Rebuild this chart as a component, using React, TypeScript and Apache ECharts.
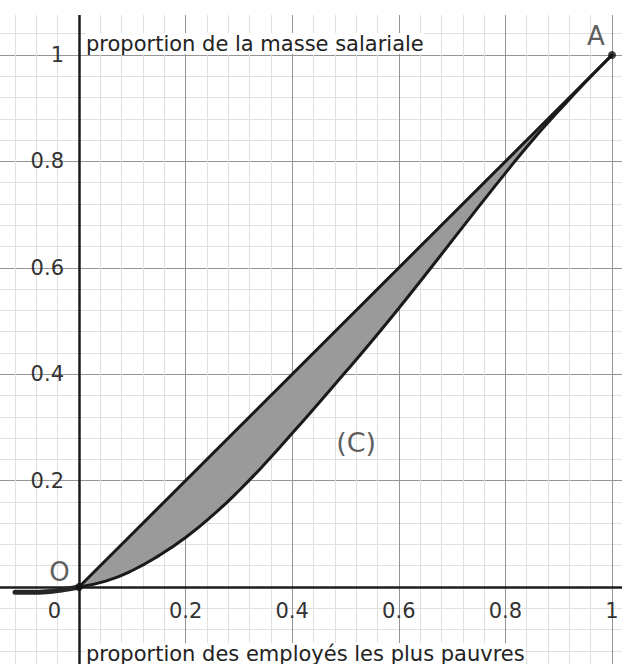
import React, { useEffect, useRef } from "react";
import * as echarts from "echarts";

// Lorenz-type curve (C)
const curveX = [-0.12, -0.09, -0.06, -0.03, 0, 0.05, 0.1, 0.15, 0.2, 0.25, 0.3, 0.35, 0.4, 0.45, 0.5, 0.55, 0.6, 0.65, 0.7, 0.75, 0.8, 0.85, 0.9, 0.95, 1];
const curveY = [-0.01, -0.01, -0.009, -0.005, 0, 0.011, 0.031, 0.059, 0.093, 0.134, 0.181, 0.233, 0.289, 0.346, 0.404, 0.463, 0.524, 0.587, 0.651, 0.715, 0.778, 0.839, 0.895, 0.949, 1];

// Diagonal (perfect equality)
const diagX = [0, 1];
const diagY = [0, 1];

// Tick labels
const xTicks = [0, 0.2, 0.4, 0.6, 0.8, 1];
const xTickLabels = ["0", "0.2", "0.4", "0.6", "0.8", "1"];
const yTicks = [0.2, 0.4, 0.6, 0.8, 1];
const yTickLabels = ["0.2", "0.4", "0.6", "0.8", "1"];

// Named points and annotation
const pointNames = ["A", "O"];
const pointX = [1, 0];
const pointY = [1, 0];
const curveName = "(C)";
const curveLabelPos = [0.52, 0.272];

const yAxisTitle = "proportion de la masse salariale";
const xAxisTitle = "proportion des employés les plus pauvres";

const FONT = "DejaVu Sans";

function findLabel(v: number, ticks: number[], labels: string[]) {
  for (let i = 0; i < ticks.length; i++) {
    if (Math.abs(v - ticks[i]) < 1e-6) return labels[i];
  }
  return "";
}

export default function App() {
  const ref = useRef<HTMLDivElement>(null);

  useEffect(() => {
    if (!ref.current) return;
    const chart = echarts.init(ref.current, undefined, { renderer: "svg" });

    const curveData = curveX.map((x, i) => [x, curveY[i]]);
    const diagData = diagX.map((x, i) => [x, diagY[i]]);
    const lowerPos = curveData.filter((p) => p[0] >= 0);
    const leftPart = curveData.filter((p) => p[0] <= 0);

    const option: any = {
      animation: false,
      backgroundColor: "#ffffff",
      grid: {
        left: -27.6,
        right: -96.6,
        top: -51.4,
        bottom: -29.4,
        containLabel: false,
        outerBoundsMode: "none",
      },
      xAxis: {
        type: "value",
        position: "bottom",
        offset: -106.4,
        min: -0.2,
        max: 1.2,
        interval: 0.2,
        axisLine: { show: true, onZero: false, lineStyle: { color: "#1c1c1c", width: 2.5 } },
        axisTick: { show: false },
        minorTick: { show: false, splitNumber: 5 },
        splitLine: { show: true, lineStyle: { color: "#959595", width: 1 } },
        minorSplitLine: { show: true, lineStyle: { color: "#e0e0e0", width: 1 } },
        axisLabel: {
          show: true,
          margin: 13,
          color: "#333",
          fontFamily: FONT,
          fontSize: 21,
          showMinLabel: false,
          showMaxLabel: false,
          hideOverlap: false,
          formatter: (v: number) => {
            const s = findLabel(v, xTicks, xTickLabels);
            if (s === "") return "";
            if (Math.abs(v) < 1e-6) return "{z|" + s + "}";
            return s;
          },
          rich: {
            z: { fontFamily: FONT, fontSize: 21, color: "#333", padding: [0, 49, 0, 0] },
          },
        },
      },
      yAxis: {
        type: "value",
        position: "left",
        offset: -106.6,
        min: -0.2,
        max: 1.2,
        interval: 0.2,
        axisLine: { show: true, onZero: false, lineStyle: { color: "#1c1c1c", width: 2.5 } },
        axisTick: { show: false },
        minorTick: { show: false, splitNumber: 5 },
        splitLine: { show: true, lineStyle: { color: "#959595", width: 1 } },
        minorSplitLine: { show: true, lineStyle: { color: "#e0e0e0", width: 1 } },
        axisLabel: {
          show: true,
          margin: 15,
          color: "#333",
          fontFamily: FONT,
          fontSize: 21,
          showMinLabel: false,
          showMaxLabel: false,
          hideOverlap: false,
          formatter: (v: number) => findLabel(v, yTicks, yTickLabels),
        },
      },
      series: [
        {
          type: "custom",
          z: 1,
          silent: true,
          data: [[0, 0]],
          renderItem: (params: any, api: any) => {
            if (params.dataIndex !== 0) return null;
            const pts: number[][] = [];
            diagData.forEach((p) => pts.push(api.coord(p)));
            for (let i = lowerPos.length - 1; i >= 0; i--) pts.push(api.coord(lowerPos[i]));
            return { type: "polygon", shape: { points: pts, smooth: 0 }, style: { fill: "#9a9a9a" } };
          },
        },
        {
          type: "line",
          data: lowerPos,
          smooth: 0.5,
          showSymbol: false,
          z: 3,
          lineStyle: { color: "#1a1a1a", width: 3, cap: "round" },
        },
        {
          type: "line",
          data: leftPart,
          smooth: 0.5,
          showSymbol: false,
          z: 3,
          lineStyle: { color: "#262626", width: 5, cap: "round" },
        },
        {
          type: "line",
          data: diagData,
          showSymbol: false,
          z: 3,
          lineStyle: { color: "#1a1a1a", width: 3 },
        },
        {
          type: "scatter",
          z: 4,
          symbolSize: 8,
          itemStyle: { color: "#111" },
          data: pointNames.map((n, i) => ({
            value: [pointX[i], pointY[i]],
            label: {
              show: true,
              formatter: n,
              position: "inside",
              offset: i === 0 ? [-16, -19] : [-19.5, -15],
              fontFamily: FONT,
              fontSize: 26,
              color: "#333",
            },
          })),
        },
        {
          type: "scatter",
          z: 4,
          symbolSize: 0,
          itemStyle: { color: "transparent" },
          data: [
            {
              value: curveLabelPos,
              label: {
                show: true,
                formatter: curveName,
                position: "inside",
                fontFamily: FONT,
                fontSize: 27,
                color: "#333",
              },
            },
          ],
        },
      ],
      graphic: [
        {
          type: "rect",
          z: 50,
          silent: true,
          shape: { x: 0, y: 0, width: 622, height: 15 },
          style: { fill: "#ffffff" },
        },
        {
          type: "text",
          z: 60,
          left: 86,
          top: 33,
          style: {
            text: yAxisTitle,
            font: `21px "${FONT}"`,
            fill: "#222",
            backgroundColor: "#ffffff",
          },
        },
        {
          type: "text",
          z: 60,
          left: 86,
          top: 643,
          style: {
            text: xAxisTitle,
            font: `21px "${FONT}"`,
            fill: "#222",
            backgroundColor: "#ffffff",
          },
        },
      ],
    };

    chart.setOption(option);
    return () => chart.dispose();
  }, []);

  return (
    <div
      ref={ref}
      style={{ position: "absolute", left: 0, top: 0, width: 622, height: 664 }}
    />
  );
}
